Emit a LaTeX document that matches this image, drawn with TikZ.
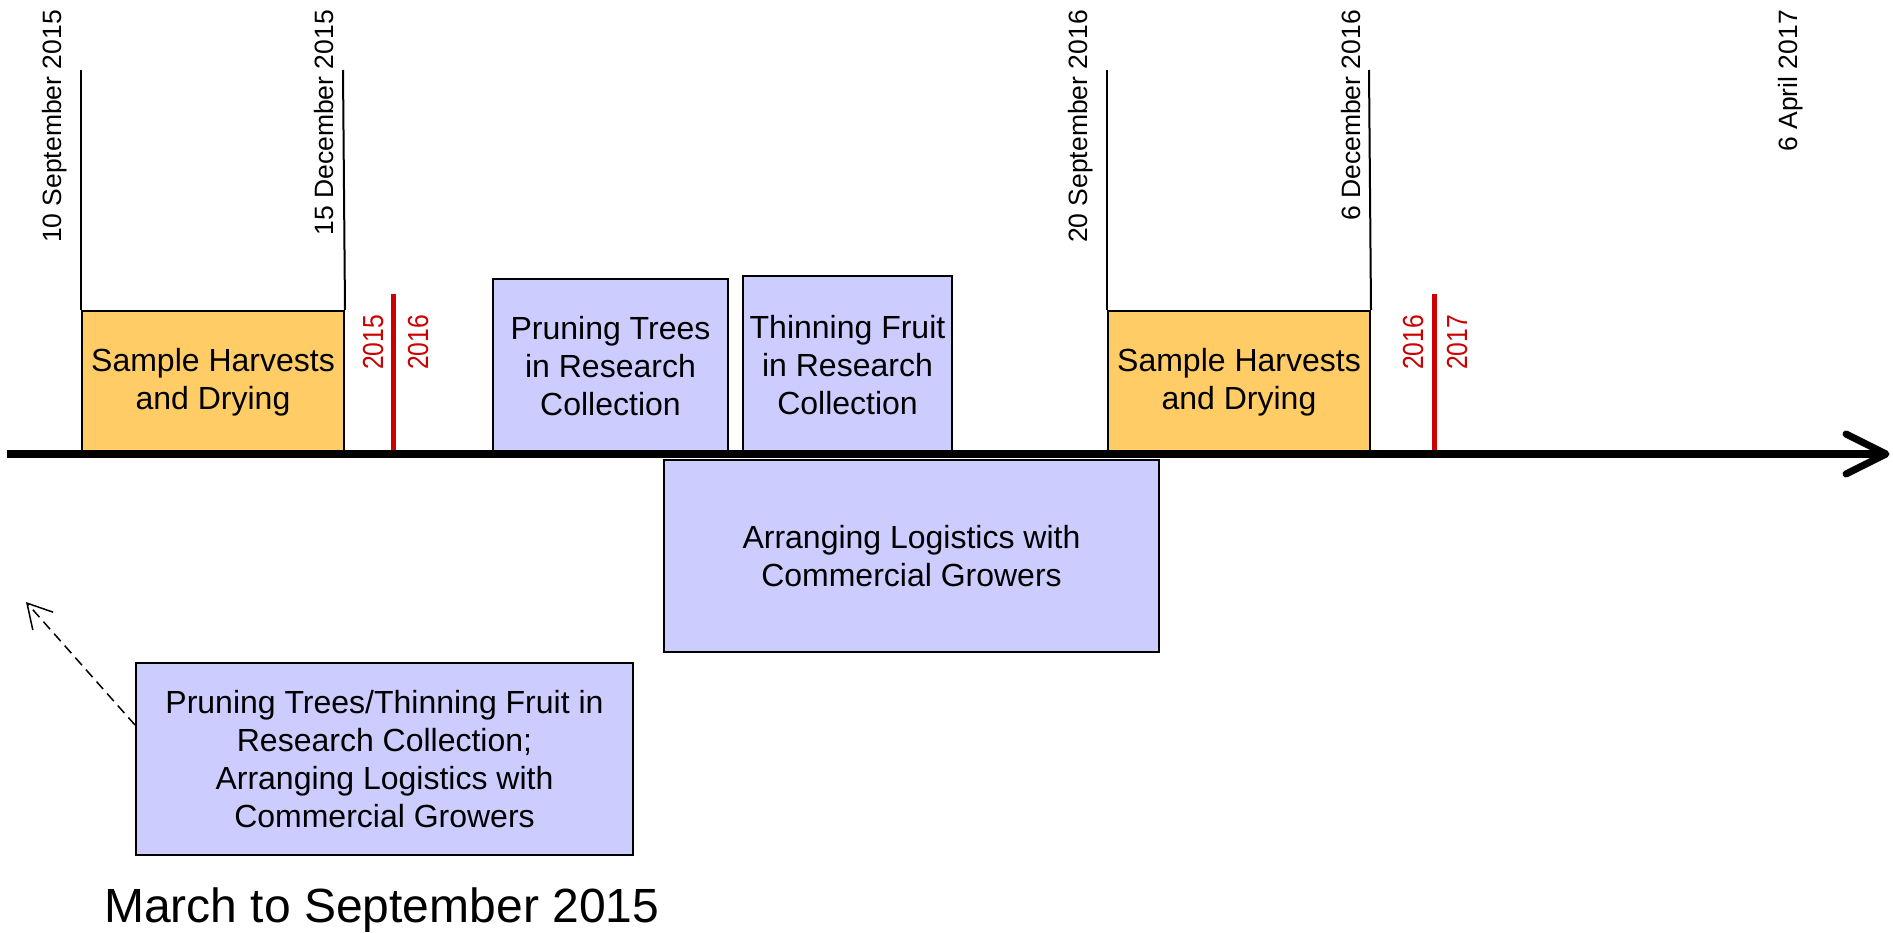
\documentclass[tikz,border=0pt]{standalone}
\usepackage{fontspec}
\usepackage{graphicx}
\setmainfont{Liberation Sans}
\usetikzlibrary{arrows.meta,calc}
\definecolor{harv}{RGB}{255,204,102}
\definecolor{taskc}{RGB}{204,204,255}
\definecolor{yr}{RGB}{204,0,0}
\begin{document}
\begin{tikzpicture}[x=1pt,y=-1pt,
  box/.style={draw=black, line width=2pt, inner sep=0pt, align=center, font=\fontsize{32}{38}\selectfont, anchor=north west},
  harvbox/.style={box, fill=harv},
  taskbox/.style={box, fill=taskc},
  datelbl/.style={rotate=90, anchor=base east, inner sep=0pt, font=\fontsize{26.5}{31}\selectfont},
  yrlbl/.style={rotate=90, anchor=base west, inner sep=0pt, text=yr, font=\fontsize{29}{34}\selectfont},
  yrline/.style={draw=yr, line width=5pt},
  dateline/.style={draw=black, line width=2pt},
  axisline/.style={draw=black, line width=7.5pt},
  axishead/.style={draw=black, line width=7pt, line cap=round, line join=round},
  hintarrow/.style={draw=black, line width=1.5pt, dash pattern=on 10pt off 6pt, -{Straight Barb[length=24pt,width=27pt]}},
]
\useasboundingbox (0,0) rectangle (1893,933);

% boxes
\node[harvbox, minimum width=262pt, minimum height=143pt] (h1) at (81,310) {Sample Harvests\\and Drying};
\node[taskbox, minimum width=235pt, minimum height=175pt] (p1) at (492,278) {Pruning Trees\\in Research\\Collection};
\node[taskbox, minimum width=209pt, minimum height=178pt] (t1) at (742,275) {Thinning Fruit\\in Research\\Collection};
\node[harvbox, minimum width=262pt, minimum height=143pt] (h2) at (1107,310) {Sample Harvests\\and Drying};
\node[taskbox, minimum width=495pt, minimum height=192pt] (ar) at (663,459) {Arranging Logistics with\\Commercial Growers};
\node[taskbox, minimum width=497pt, minimum height=192pt] (bl) at (135,662) {Pruning Trees/Thinning Fruit in\\Research Collection;\\Arranging Logistics with\\Commercial Growers};

% date lines
\coordinate (d1) at (81,70);
\coordinate (d2) at (343,70);
\coordinate (d3) at (1107,70);
\coordinate (d4) at (1369,70);
\draw[dateline] (d1) -- (h1.north west);
\draw[dateline] (d2) -- (h1.north east);
\draw[dateline] (d3) -- (h2.north west);
\draw[dateline] (d4) -- (h2.north east);

% date labels
\node[datelbl] (l1) at (61.5,10) {10 September 2015};
\node[datelbl] (l2) at (333,10) {15 December 2015};
\node[datelbl] (l3) at (1087,10) {20 September 2016};
\node[datelbl] (l4) at (1360,10) {6 December 2016};
\node[datelbl] (l5) at (1797,10) {6 April 2017};

% year change markers
\coordinate (r1t) at (393,294);
\coordinate (r1b) at (393,453);
\coordinate (r2t) at (1434,294);
\coordinate (r2b) at (1434,453);
\draw[yrline] (r1t) -- (r1b);
\draw[yrline] (r2t) -- (r2b);
\node[yrlbl] (y1a) at (383,370) {\scalebox{0.85}[1]{2015}};
\node[yrlbl] (y1b) at (428,370) {\scalebox{0.85}[1]{2016}};
\node[yrlbl] (y2a) at (1423,370) {\scalebox{0.85}[1]{2016}};
\node[yrlbl] (y2b) at (1467,370) {\scalebox{0.85}[1]{2017}};

% axis
\coordinate (ax0) at (7,454);
\coordinate (ax1) at (1886,454);
\coordinate (ahu) at (1846,434);
\coordinate (ahd) at (1846,474);
\draw[axisline] (ax0) -- (ax1);
\draw[axishead] (ahu) -- (ax1) -- (ahd);

% hint arrow
\coordinate (dtip) at (26,602);
\draw[hintarrow] ($(bl.north west)+(0,63)$) -- (dtip);

% caption
\node[anchor=base west, inner sep=0pt, font=\fontsize{48}{56}\selectfont] (ms) at (104,922) {March to September 2015};
\end{tikzpicture}
\end{document}
